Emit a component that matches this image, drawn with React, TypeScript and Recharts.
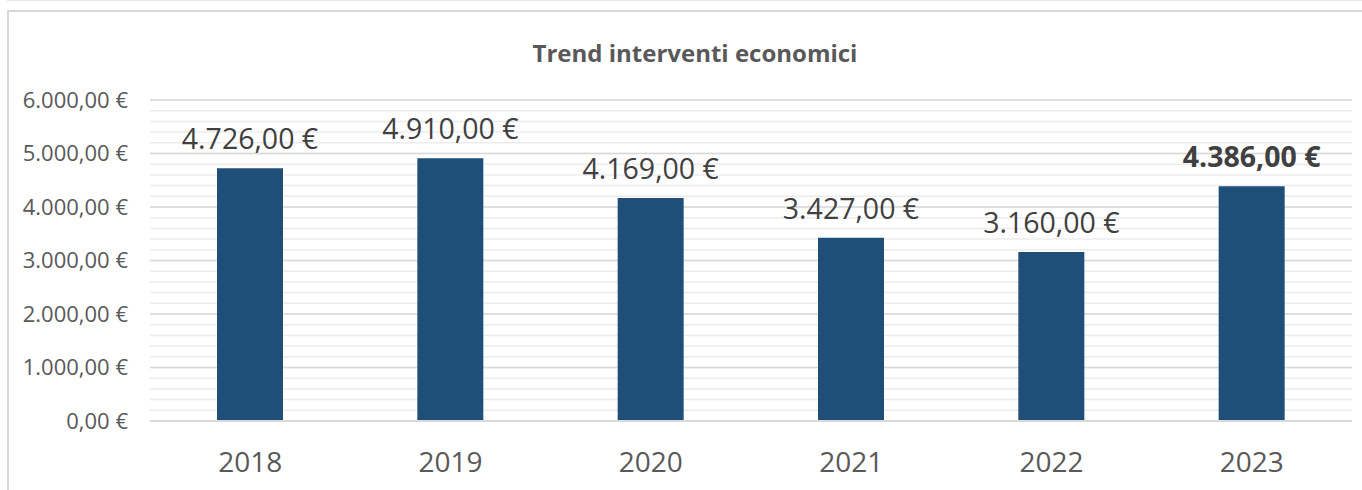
import React from 'react';
import { BarChart, Bar, XAxis, YAxis, CartesianGrid, LabelList } from 'recharts';

const years = ['2018', '2019', '2020', '2021', '2022', '2023'];
const amounts = [4726, 4910, 4169, 3427, 3160, 4386];
const yTicks = [0, 1000, 2000, 3000, 4000, 5000, 6000];
const minorStep = 200;
const yMax = 6000;
const title = 'Trend interventi economici';

const data = years.map((y, i) => ({ year: y, value: amounts[i] }));

const fmt = (v: number) => {
  const s = v.toFixed(2).split('.');
  const int = s[0].replace(/\B(?=(\d{3})+(?!\d))/g, '.');
  return `${int},${s[1]} €`;
};

const FONT = '"Open Sans", sans-serif';

const minorVals: number[] = [];
for (let v = 0; v <= yMax; v += minorStep) minorVals.push(v);

const renderLabel = (props: any) => {
  const { x, y, width, value, index } = props;
  const bold = index === amounts.length - 1;
  return (
    <text
      x={Number(x) + Number(width) / 2}
      y={Number(y) - 30}
      textAnchor="middle"
      dominantBaseline="central"
      fontFamily={FONT}
      fontSize={28.5}
      fontWeight={bold ? 700 : 400}
      fill="#404040"
    >
      {fmt(Number(value))}
    </text>
  );
};

export default function App() {
  return (
    <div style={{ position: 'absolute', left: 0, top: 0, width: 1362, height: 490, background: '#fff' }}>
      <div style={{ position: 'absolute', left: 7, top: 0, right: 0, height: 1, background: '#e6e6e6' }} />
      <div style={{ position: 'absolute', left: 7, top: 10, right: 0, bottom: 0, borderLeft: '2px solid #d9d9d9', borderTop: '2px solid #d9d9d9' }} />
      <BarChart
        width={1362}
        height={490}
        data={data}
        margin={{ top: 100, right: 10, bottom: 0, left: 0 }}
        style={{ position: 'absolute', left: 0, top: 0 }}
      >
        <text x={695} y={52} textAnchor="middle" dominantBaseline="central" fontFamily={FONT} fontSize={24} fontWeight={700} fill="#595959">
          {title}
        </text>
        <CartesianGrid
          vertical={false}
          stroke="#ececec"
          strokeWidth={1.5}
          horizontalCoordinatesGenerator={({ offset }: any) =>
            minorVals.map((v) => offset.top + offset.height * (1 - v / yMax))
          }
        />
        <CartesianGrid vertical={false} stroke="#d9d9d9" strokeWidth={1.5} />
        <XAxis
          dataKey="year"
          height={69}
          axisLine={{ stroke: '#d9d9d9', strokeWidth: 2 }}
          tickLine={false}
          tick={{ fontFamily: FONT, fontSize: 28, fill: '#595959' }}
          dy={23}
        />
        <YAxis
          width={150}
          domain={[0, yMax]}
          ticks={yTicks}
          interval={0}
          axisLine={false}
          tickLine={false}
          tickFormatter={fmt}
          tick={{ fontFamily: FONT, fontSize: 22, fill: '#595959' }}
          tickMargin={16}
        />
        <Bar dataKey="value" fill="#1f4e79" barSize={66} isAnimationActive={false}>
          <LabelList dataKey="value" content={renderLabel} />
        </Bar>
      </BarChart>
    </div>
  );
}
